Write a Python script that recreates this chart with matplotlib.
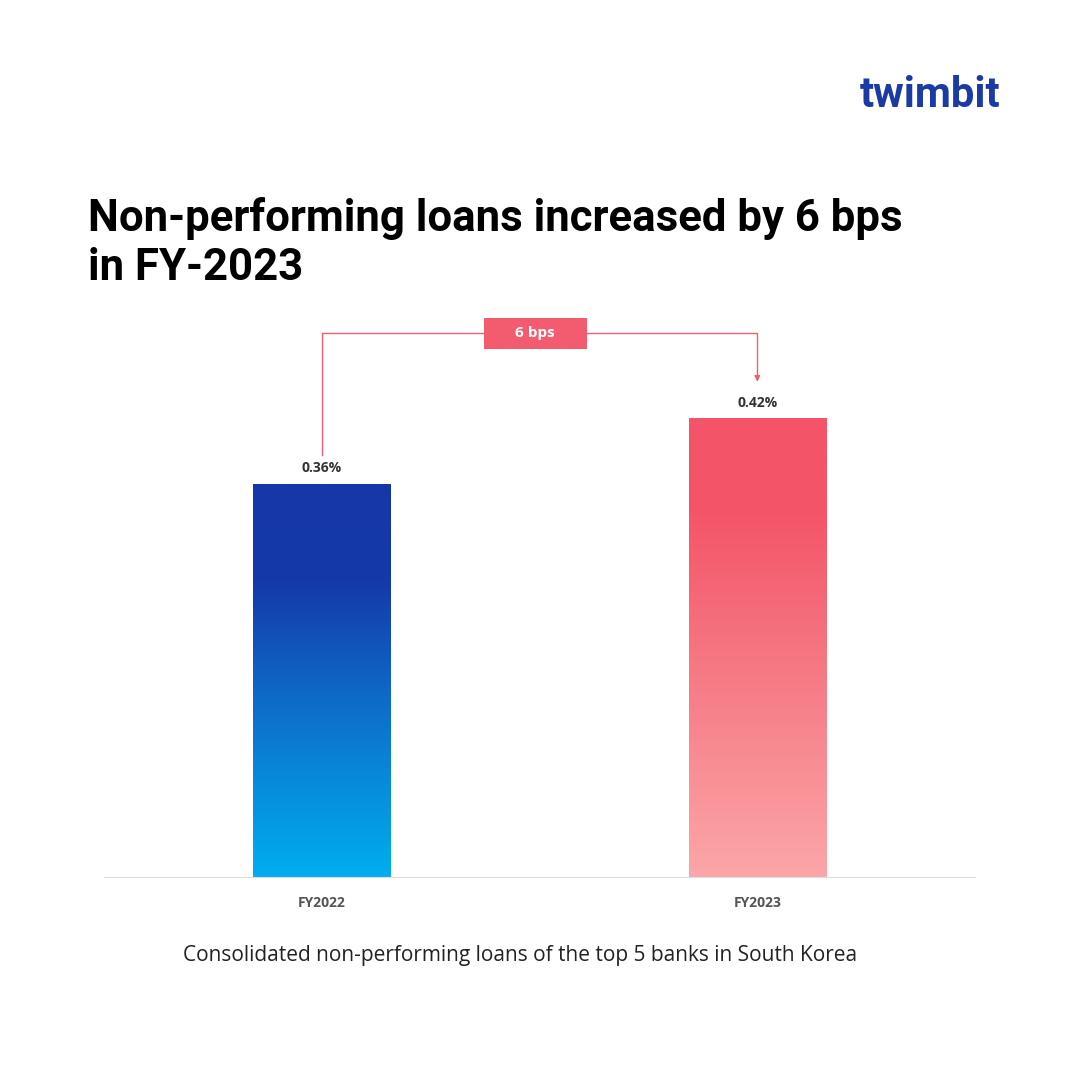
import matplotlib
matplotlib.use("Agg")
import matplotlib.pyplot as plt
import numpy as np
from matplotlib.colors import LinearSegmentedColormap
from matplotlib.patches import Rectangle

categories = ["FY2022", "FY2023"]
values = [0.36, 0.42]
labels = ["0.36%", "0.42%"]
delta_label = "6 bps"

fig = plt.figure(figsize=(10.8, 10.8), dpi=100)
fig.patch.set_facecolor("white")
ax = fig.add_axes([0.0963, 0.188, 0.8065, 0.5056])
ax.set_xlim(-0.5, 1.5)
ax.set_ylim(0, 0.5)

cmaps = [
    LinearSegmentedColormap.from_list("b", [(0, "#00AEEF"), (0.45, "#0E6BC8"), (0.75, "#1539A9"), (1, "#1537A8")]),
    LinearSegmentedColormap.from_list("r", [(0, "#FBA6A8"), (0.5, "#F57480"), (0.8, "#F45468"), (1, "#F45468")]),
]
w = 0.315
bars = ax.bar(range(len(values)), values, width=w, color="none", edgecolor="none")
grad = np.linspace(0, 1, 256).reshape(-1, 1)
for b, cm, v, lab in zip(bars, cmaps, values, labels):
    x0 = b.get_x()
    im = ax.imshow(grad, cmap=cm, origin="lower", aspect="auto",
                   extent=[x0, x0 + w, 0, v], zorder=2)
    im.set_clip_path(b)
    ax.text(b.get_x() + w / 2, v + 0.008, lab, ha="center", va="bottom",
            fontsize=10, fontweight="bold", color="#333333", family="Open Sans")

ax.set_xlim(-0.5, 1.5)
ax.set_ylim(0, 0.5)
for s in ["top", "right", "left"]:
    ax.spines[s].set_visible(False)
ax.spines["bottom"].set_color("#DDDDDD")
ax.set_yticks([])
ax.set_xticks(range(len(categories)))
ax.set_xticklabels(categories, fontsize=10, fontweight="bold", color="#555555", family="Open Sans")
ax.tick_params(axis="x", length=0, pad=14)

# annotation bracket
red = "#F25C6E"
ytop = 0.498
ax.plot([0, 0, 1, 1], [values[0] + 0.026, ytop, ytop, 0.456], color=red, lw=1, clip_on=False)
ax.annotate("", xy=(1, values[1] + 0.031), xytext=(1, 0.46),
            arrowprops=dict(arrowstyle="-|>", color=red, lw=1, mutation_scale=8), annotation_clip=False)
bw, bh = 103 / 871 * 2, 31 / 1092
ax.add_patch(Rectangle((0.49 - bw / 2, ytop - bh / 2), bw, bh, fc=red, ec="none", zorder=4, clip_on=False))
ax.text(0.49, ytop, delta_label, ha="center", va="center", fontsize=11, fontweight="bold",
        color="white", family="Open Sans", zorder=5, clip_on=False)

fig.text(88 / 1080, 1 - 280 / 1080, "Non-performing loans increased by 6 bps\nin FY-2023",
         fontsize=31.5, fontweight="bold", color="black", family="Roboto",
         va="baseline", ha="left", linespacing=1.2)
fig.text(520 / 1080, 1 - 956 / 1080, "Consolidated non-performing loans of the top 5 banks in South Korea",
         fontsize=15, color="#222222", family="Open Sans", ha="center", va="center")
fig.text(1000 / 1080, 1 - 95 / 1080, "twimbit", fontsize=30, fontweight="bold", color="#1A3AA6",
         family="Roboto", ha="right", va="center")

fig.savefig("out.png", dpi=100, facecolor="white")
